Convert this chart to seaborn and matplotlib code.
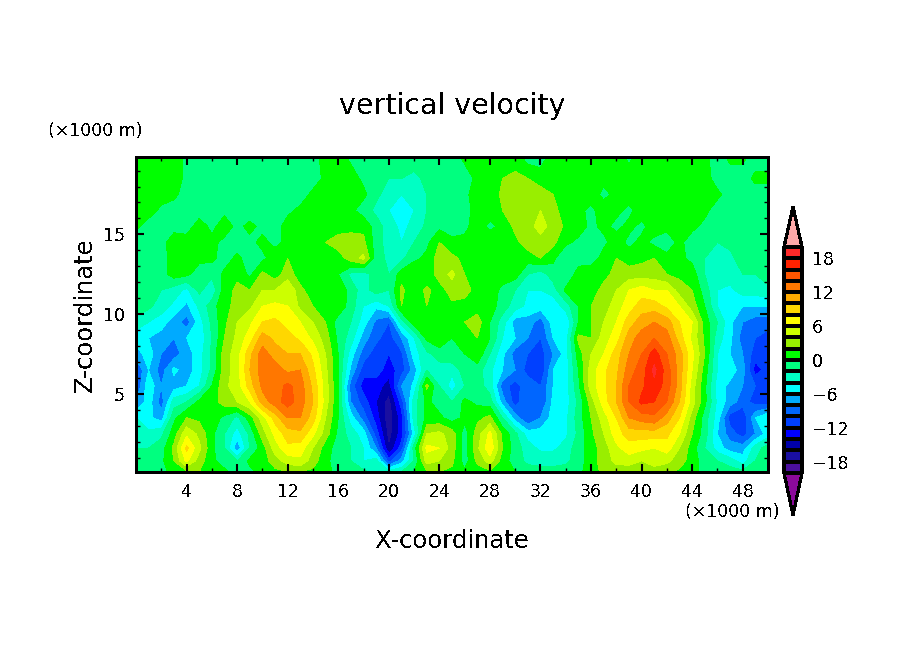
import numpy as np
import matplotlib
matplotlib.use("Agg")
import matplotlib.pyplot as plt
from matplotlib.colors import ListedColormap, BoundaryNorm
import seaborn as sns

x_km = list(range(51))
z_km = [0.1, 0.8, 1.6, 2.5, 3.5, 4.5, 5.5, 6.5, 7.5, 8.5, 9.5, 10.5,
        11.5, 12.5, 13.5, 14.5, 15.5, 16.5, 17.5, 18.5, 19.85]

# vertical velocity, one row per height, x = 0..50
w_z00 = [-1,-1,-0.5,0.5,1.5,2,1.5,0.5,-1,-0.5, 0.5,1.5,2,2,1.5,0.5,-0.5,-1,-1.5,-2.5,
         -3,-2,0,1.5,2,1.5,0.5,1,1.5,1, 0,-1,-1.5,-1.5,-1,-0.5,1,2.5,3,2.5,
         2.5,3,2.5,1.5,0.5,-0.5,-1,-1,-1.5,-1,-1]
w_z01 = [-1.5,-1.5,-0.5,2,6.5,3,0.5,-1,-2,0.5, 1,3,5,5.5,3,0.5,-1,-2,-4,-3,
         -11,-7,-2,5,4,2.5, -1,2.5,5,1,-1,-2.5,-2.5,-2.5,-2.5,-1,1,3,4.5,5,
         4,5,4.5,3,1,-1,-2,-3,-5,-2,-1]
w_z02 = [-2,-2,-1,2.5,8.5,4.5,0.5,-2,-7.5,-2, 1,5,7.5,7,4,1,-1,-2,-4,-8,
         -16,-11,-1,6.5,6,3,-1,3.5,7.5,2, -1,-3,-4.5,-4.5,-3,-1,1,3,5.5,7,
         6.5,6,7,4,1,-2,-5,-7,-7,-3,-1]
w_z03 = [-2,-3.5,-2.5,1,5.5,3.5,0.5,-2,-5,-1.5, 3,6.5,9,9.5,6.5,3,-0.5,-3,-5,-11,
         -17,-13,-5,4,4.5,3,-1,3,6.5,1.5, -1.5,-5,-5,-5,-4.5,-1.5,1.5,4,7,9,
         9,9,8.5,6,2,-1,-6,-9,-11,-8,-5]
w_z04 = [-4,-5.5,-7,-0.5,2,1.5,1,-0.5,-2.5,1, 5,9,12,12,9,4,0,-5,-9,-13,
         -17.5,-13,-3,0.5,0.5,-1,0.5,1.5,2.5,-2, -7,-10,-8,-5,-4.5,-1,2,5,8,12,
         13,13.5,11,8,3,-1,-5,-11,-12,-6,-4]
w_z05 = [-8,-5,-9,-3,-2,0.5,1,3,4,6, 11,13,15,13,10,5,0,-8,-11,-14,
         -17,-11,-3,0.5,-1,-2,0.5,-0.5,-1,-7, -11,-8,-10,-5.5,-5,-1.5,3,7,10,14,
         16.5,16,14,10,5,0.5,-4.5,-7,-9,-11,-11]
w_z06 = [-10,-4.5,-8,-7,-6,-4,0,3.5,5,9, 12.5,13,14.5,13,9.5,5,0,-9,-13,-13,
         -15,-8,-5.5,2.5,-2,-5,-2,-1,-3,-9, -11,-8.5,-10,-6,-5,-0.5,5,7.5,10,14,
         15.5,17.5,15,11,5,0.5,-5,-6.5,-8,-10,-12]
w_z07 = [-10,-6,-9,-5.5,-7,-5,-1.5,3,5,10, 13,13,11.5,12,8.5,4.5,0,-6.5,-11,-11,
         -13,-11,-7,-2,-3,-3.5,-1,-1,-3.5,-6, -8,-11,-12,-6,-5,0,5,7.5,9.5,13,
         15,18.5,15,11,6,1,-4,-5,-7,-13,-11]
w_z08 = [-7,-5,-8,-9,-7,-5,-1.5,3,5,9.5, 13,11,10,10,7.5,4,0,-5,-9,-11,
         -12,-10.5,-5,-2.5,-1,0,0,1.5,-2,-5.5, -9,-10,-11,-8,-5,1,4,6,9,12,
         14,17,14,11,6.5,2,-4,-6,-8,-11,-10]
w_z09 = [-5,-6,-7,-8,-6,-5.5,-2,2,4.5,7, 11,9.5,9,7.5,5.5,3,-0.5,-3,-7,-9.5,
         -11,-8,-4,0.5,1.5,0,2,2,0,-4, -6,-8,-10,-6,-5,2.5,2,5,7,11,
         13,14,13,9,5.5,1.5,-3,-5.5,-9,-10,-11]
w_z10 = [-3,-4,-5,-7,-9,-5,-1.5,1.5,4,5.5, 8,8.5,7,6,4,2,-1,-2,-5,-8.5,
         -10,-3,1,0.5,2,0,2,3,0,-3, -7,-7,-9,-5,-6,0,2,4,6,9,
         11,12,11,8,6,1,-2,-5.5,-8,-9,-9]
w_z11 = [-0.5,-1.5,-3,-4.5,-6.5,-3.5,-1,1.5,2.5,3.5, 6,6.5,6,3.5,2,1,1.5,-1,-4,-5.5,
         -4,2,0.5,2,0.5,1.5,1,1,1,-1, -3,-4.5,-5,-5.5,-3,0,2,3,5,7,
         9,9,7.5,6,3,0,-4,-5,-6,-6,-6]
w_z12 = [-1,-1,-2,-3,-4.5,-1.5,-3.5,1,2.5,2, 4,4,6,2.5,1,0.5,2,-1,-3,-1,
         -2,2.5,0.5,2.5,1,3,3,1,1,-0.5, -2,-4,-4,-3,0.5,1,0.5,3,4,6,
         7,6,6,3,2,-1,-4,-4.5,-3,-3,-2.5]
w_z13 = [-1,-1.5,-1,1,0.5,-1,-1.5,0.5,1.5,-0.5, 2.5,1,3,1,1,1.5,0,-2.5,-3,-1,
         -2,1,2,0.5,3,4.5,2,0.5,1.5,1, 1,-2,-3,-1,-2,1,2,1,3,3,
         3,3,2,1.5,1,-2,-3,-3,-2,-2,-1]
w_z14 = [-1.5,-1,-1,1,1.5,0.5,0.5,-1,0.5,-1, -0.5,1,2,1,1,1,1,3,4.5,-1,
         -2.5,-2.5,-0.5,0.5,3,2.5,1.5,1,1,1.5, 2,1,2,0.5,-2,-1,-1.5,1,2,1,
         1.5,2,0.5,0.5,-0.5,-2,-2,-2.5,-1,-1,-1]
w_z15 = [-1.5,-1,-1,1.5,1,1,0.5,-0.5,-1,-0.5, 0.5,-0.5,0.5,1.5,0.5,2,3,3.5,2.5,-1,
         -3,-4,-2,-0.5,2,0.5,0.5,1,1.5,1, 1.5,3,3.5,2.5,0.5,-0.5,-1,-0.5,1,-0.5,
         0.5,-0.5,-1,0.5,-1,-1.5,-2,-1.5,-1,-1,-1]
w_z16 = [0.5,-1,-1,-1,-1,1,-0.5,1,-0.5,0.5, -0.5,-1,1,0.5,1,1,1,1,1.5,-1,
         -3,-4.5,-3.5,-1.5,-0.5,-1,-0.5,1,-0.5,0.5, 2.5,3.5,4.5,3.5,1.5,1,-0.5,0.5,-0.5,0.5,
         -0.5,1,0.5,1,0.5,-0.5,-1,-1,-1,-1,-1]
w_z17 = [1,1,-0.5,-1,-1,-1,-1,-0.5,-1,-1, -1,-1,-0.5,0.5,1,0.5,1,0.5,-1,-2.5,
         -4,-5,-4,-2,-1,-1,-1,1,1,2, 2.5,3.5,4,3,0.5,0.5,-0.5,1,0.5,-0.5,
         1,1,0.5,1,1,0.5,-1,-1,-1,-1,-1]
w_z18 = [1,1,1,0.5,-1,-1,-1,-1,-1,-1, -1,-1,-1,-1,0.5,1,1,1,0.5,-1.5,
         -3,-4,-3,-2,-1,-1,-0.5,1,0.5,2.5, 3,3.5,3,2,0.5,1,1,-0.5,0.5,1,
         0.5,1,1,1,0.5,0.5,0.5,-1,-1,-1,-1]
w_z19 = [1,1,1,1,-0.5,-1,-1,-1,-1,-1, -1,-1,-1,-1,-1,0.5,1,1,-0.5,-1,
         -2,-2,-2.5,-1.5,-1,-1,-1,0.5,1,2, 2.5,2,1,1,1,1,1,0.5,1,1,
         1,1,1,1,1,1,-1,-1,-1,0.5,0.5]
w_z20 = [1,1,1,1,-0.5,-1,-1,-1,-1,-1, -1,-1,-1,-1,-1,1,1,-0.5,-1,-1,
         -1,-1,-1,-1,-1,-1,0.5,1,0.5,1, 1,-1,-1,1,1,1,1,1,1,-0.5,
         1,0.5,1,0.5,1,0.5,-1,0.5,0.5,-1,-1]

w_rows = [w_z00, w_z01, w_z02, w_z03, w_z04, w_z05, w_z06, w_z07, w_z08, w_z09, w_z10,
          w_z11, w_z12, w_z13, w_z14, w_z15, w_z16, w_z17, w_z18, w_z19, w_z20]

levels = [-20, -18, -16, -14, -12, -10, -8, -6, -4, -2, 0, 2, 4, 6, 8, 10, 12, 14, 16, 18, 20]
band_colors = ["#4b0f9e", "#1a0fa0", "#0000aa", "#0000ff", "#0040ff", "#0066ff", "#00aaff",
               "#00ffff", "#00ffc4", "#00ff7f", "#00ff00", "#99ee00", "#ccff00", "#ffff00",
               "#ffd700", "#ffaa00", "#ff7700", "#ff5500", "#ff2200", "#ff2a2a"]
under_color = "#8b0a9b"
over_color = "#ffaaaa"
cbar_ticks = [-18, -12, -6, 0, 6, 12, 18]
x_major = [4, 8, 12, 16, 20, 24, 28, 32, 36, 40, 44, 48]
x_minor = [2, 6, 10, 14, 18, 22, 26, 30, 34, 38, 42, 46]
z_major = [5, 10, 15]
z_minor = [1, 2, 3, 4, 6, 7, 8, 9, 11, 12, 13, 14, 16, 17, 18, 19]

sns.set_theme(style="ticks", font="DejaVu Sans")
plt.rcParams["text.antialiased"] = False
plt.rcParams["lines.antialiased"] = False
plt.rcParams["patch.antialiased"] = False

cmap = ListedColormap(sns.color_palette(band_colors))
cmap.set_under(under_color)
cmap.set_over(over_color)
norm = BoundaryNorm(levels, cmap.N)

W, H = 904, 654
fig = plt.figure(figsize=(W / 100, H / 100), dpi=100, facecolor="white")
ax = fig.add_axes([136 / W, 1 - 472 / H, 632 / W, 315 / H])

field = np.array(w_rows)
cs = ax.contourf(x_km, z_km, field, levels=levels, cmap=cmap, norm=norm,
                 extend="both", antialiased=False)
ax.set_xlim(0, 50)
ax.set_ylim(0.1, 19.85)
ax.set_axisbelow(False)

ax.set_xticks(x_major)
ax.set_xticks(x_minor, minor=True)
ax.set_yticks(z_major)
ax.set_yticks(z_minor, minor=True)
ax.tick_params(axis="both", which="major", direction="in", length=5.5, width=1.5,
               top=True, right=True, labelsize=12.5, pad=8, color="black", labelcolor="black")
ax.tick_params(axis="both", which="minor", direction="in", length=3, width=1,
               top=True, right=True, color="black")
for side in ax.spines.values():
    side.set_linewidth(1.8)
    side.set_color("black")

ax.set_xlabel("X-coordinate", fontsize=17.5, color="black", labelpad=20)
ax.set_ylabel("Z-coordinate", fontsize=17.5, color="black", labelpad=4.5)
fig.text(452 / W, 1 - 106 / H, "vertical velocity", fontsize=20.5, color="black",
         ha="center", va="center")
fig.text(95 / W, 1 - 131 / H, "(×1000 m)", fontsize=12.5, color="black", ha="center", va="center")
fig.text(732 / W, 1 - 512 / H, "(×1000 m)", fontsize=12.5, color="black", ha="center", va="center")

cax = fig.add_axes([784 / W, 1 - 515 / H, 18 / W, 308 / H])
cbar = fig.colorbar(cs, cax=cax, drawedges=True, extend="both",
                    extendfrac=(0.186, 0.177), ticks=cbar_ticks)
cbar.minorticks_off()
cbar.outline.set_linewidth(1.6)
cbar.outline.set_edgecolor("black")
cbar.dividers.set_linewidth(1.6)
cbar.dividers.set_color("black")
cbar.ax.tick_params(length=0, labelsize=12.5, pad=7, labelcolor="black")

fig.savefig("out.png", dpi=100)
